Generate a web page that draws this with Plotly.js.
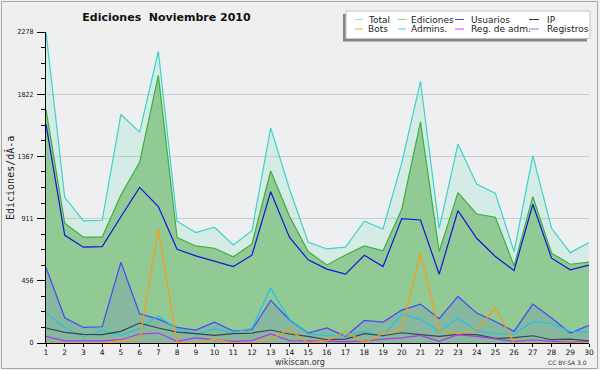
<!DOCTYPE html>
<html><head><meta charset="utf-8">
<script src="https://cdn.plot.ly/plotly-3.0.1.min.js"></script>
<style>html,body{margin:0;padding:0;background:#efefef}#chart{width:600px;height:370px}</style>
</head><body><div id="chart"></div>
<script>
const days = [1,2,3,4,5,6,7,8,9,10,11,12,13,14,15,16,17,18,19,20,21,22,23,24,25,26,27,28,29,30];
const total     = [2278,1067,894,899,1674,1545,2137,892,809,848,718,823,1576,1130,740,689,702,892,835,1320,1917,840,1457,1164,1096,670,1372,840,662,736];
const ediciones = [1710,877,775,775,1084,1323,1961,772,711,694,631,726,1260,930,670,572,645,711,675,980,1620,670,1101,945,921,565,1072,658,577,592];
const usuarios  = [1601,789,702,706,925,1140,999,687,638,597,560,643,1108,775,609,541,504,643,560,911,901,504,969,767,633,531,1016,621,536,570];
const registros = [553,185,114,119,592,214,175,114,95,153,88,97,312,170,73,110,48,165,153,241,285,178,341,219,158,85,285,183,73,129];
const admins    = [219,112,46,90,58,105,197,102,63,102,77,110,402,175,68,53,53,85,48,212,175,85,183,90,66,66,158,143,85,80];
const ip        = [110,78,63,61,85,146,110,80,68,56,68,73,95,66,48,24,29,68,53,75,61,48,63,61,34,39,53,24,29,15];
const regadm    = [48,15,15,15,24,66,73,12,37,24,12,17,66,17,14,10,10,14,29,37,56,12,61,48,29,12,22,15,5,10];
const bots      = [0,0,0,0,17,22,833,4,0,29,0,0,29,97,0,17,85,4,68,102,658,90,68,97,256,0,0,0,0,0];

const yTickVals = [0,455.6,911.2,1366.8,1822.4,2278];
const yTickText = ['0','456','911','1367','1822','2278'];
const legendNames = ['Total','Ediciones','Usuarios','IP','Bots','Admins.','Reg. de adm.','Registros'];
const chartTitle = 'Ediciones\u00a0 Noviembre 2010';
const yTitle = 'Ediciones/dÃ-a';

const C = {
  total:'#3cd4c8', ed:'#3fae3f', us:'#1414dc', ip:'#3e4448',
  bots:'#ff9a10', adm:'#1ec4e6', reg:'#b432ee', regs:'#4646ff'
};
const legendColors = ['#9ee8e2','#86d886','#4848ff','#333333','#ffa628','#3cdcef','#e040f0','#7c7cff'];

const L=46, R=11, T=32, B=27, W=600, H=370;
const PW=W-L-R, PH=H-T-B;
const px=v=>(v-L)/PW, py=v=>(H-B-v)/PH;

function line(y,color,extra){return Object.assign({x:days,y:y,type:'scatter',mode:'lines',line:{color:color,width:1.2},hoverinfo:'skip'},extra||{});}
const traces = [
  line(total,C.total,{fill:'tozeroy',fillcolor:'rgba(40,205,165,0.13)'}),
  line(ediciones,C.ed,{fill:'tozeroy',fillcolor:'rgb(146,202,150)'}),
  line(usuarios,C.us),
  line(registros,C.regs,{fill:'tozeroy',fillcolor:'rgba(40,60,230,0.12)'}),
  line(admins,C.adm),
  line(ip,C.ip),
  line(regadm,C.reg),
  line(bots,C.bots)
];

const shapes=[
  {type:'rect',xref:'paper',yref:'paper',x0:px(1.5),x1:px(597.5),y0:py(368.5),y1:py(1.5),line:{color:'#a8a8a8',width:1},layer:'below'},
  {type:'rect',xref:'paper',yref:'paper',x0:px(343),x1:px(587),y0:py(41.5),y1:py(14),fillcolor:'#858585',line:{width:0}},
  {type:'rect',xref:'paper',yref:'paper',x0:px(346),x1:px(590),y0:py(38.5),y1:py(11),fillcolor:'#ffffff',line:{color:'#c4c4c4',width:1}}
];
const annotations=[];
const symX=[[355,363],[398,406],[455,464],[529,539]];
const txtX=[366,409,469,545];
const rowY=[19.5,29];
legendNames.forEach((n,i)=>{
  const c=i%4, r=Math.floor(i/4);
  shapes.push({type:'line',xref:'paper',yref:'paper',x0:px(symX[c][0]),x1:px(symX[c][1]),y0:py(rowY[r]),y1:py(rowY[r]),line:{color:legendColors[i],width:1}});
  annotations.push({xref:'paper',yref:'paper',x:px(txtX[c]),y:py(rowY[r]),text:n,showarrow:false,xanchor:'left',yanchor:'middle',font:{family:'DejaVu Sans',size:9,color:'#222'}});
});
annotations.push({xref:'paper',yref:'paper',x:px(300),y:py(362),text:'wikiscan.org',showarrow:false,xanchor:'center',yanchor:'middle',font:{family:'DejaVu Sans',size:8,color:'#333'}});
annotations.push({xref:'paper',yref:'paper',x:px(589),y:py(362),text:'CC BY-SA 3.0',showarrow:false,xanchor:'right',yanchor:'middle',font:{family:'DejaVu Sans',size:6,color:'#333'}});
annotations.push({xref:'paper',yref:'paper',x:px(10),y:py(178),text:yTitle,showarrow:false,textangle:-90,xanchor:'center',yanchor:'middle',font:{family:'DejaVu Sans Mono',size:10,color:'#222'}});

const layout={
  width:W,height:H,
  margin:{l:L,r:R,t:T,b:B,autoexpand:false},
  paper_bgcolor:'#efefef',plot_bgcolor:'#eeeff0',
  showlegend:false,
  title:{text:chartTitle,x:166.5/W,xref:'container',xanchor:'center',y:1-17/H,yref:'container',yanchor:'middle',font:{family:'DejaVu Sans',size:11,weight:'bold',color:'#111'}},
  xaxis:{range:[1,30],tickmode:'linear',tick0:1,dtick:1,ticks:'outside',ticklen:3,tickcolor:'#000',showline:true,linecolor:'#000',linewidth:1,showgrid:false,zeroline:false,layer:'above traces',tickfont:{family:'DejaVu Sans',size:7.5,color:'#111'},ticklabelstandoff:-1,fixedrange:true},
  yaxis:{range:[0,2278],tickmode:'array',tickvals:yTickVals,ticktext:yTickText,ticks:'outside',ticklen:8,tickcolor:'#000',showline:true,linecolor:'#000',linewidth:1,showgrid:true,gridcolor:'rgba(0,0,0,0.14)',gridwidth:1,zeroline:false,layer:'above traces',
    minor:{tickmode:'linear',tick0:0,dtick:113.9,ticks:'outside',ticklen:4,tickcolor:'#000',showgrid:false},
    tickfont:{family:'Liberation Sans Narrow, DejaVu Sans Condensed, sans-serif',size:7,color:'#111'},ticklabelstandoff:2,fixedrange:true},
  shapes:shapes,annotations:annotations
};
Plotly.newPlot('chart',traces,layout,{staticPlot:true,displayModeBar:false});
</script></body></html>
